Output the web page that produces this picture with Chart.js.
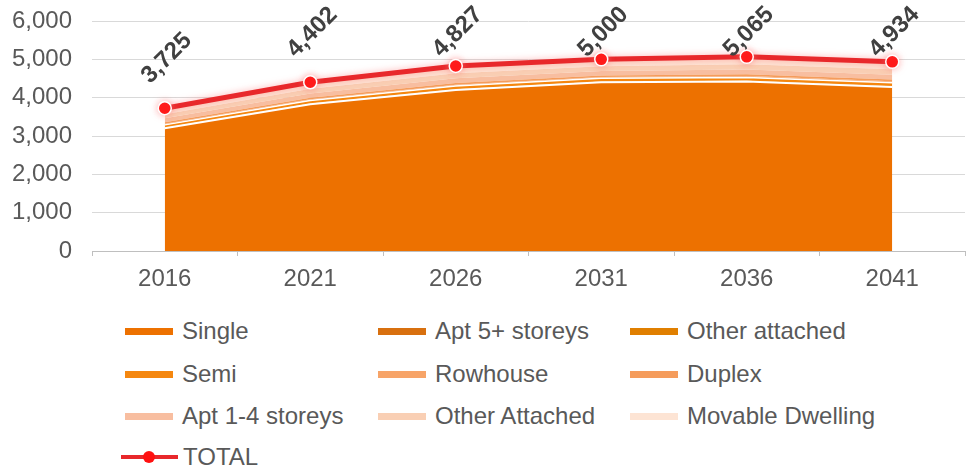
<!DOCTYPE html>
<html>
<head>
<meta charset="utf-8">
<script src="https://cdn.jsdelivr.net/npm/chart.js@4"></script>
<style>
  html, body { margin: 0; padding: 0; background: #ffffff; }
  #wrap { position: relative; width: 973px; height: 472px; overflow: hidden; font-family: "Liberation Sans", Arial, sans-serif; }
  #chartBox { position: absolute; left: 0; top: 0; width: 973px; height: 300px; }
  .lg { position: absolute; height: 30px; display: flex; align-items: center; font-size: 24px; color: #595959; white-space: nowrap; }
  .mk { display: inline-block; width: 48px; height: 7px; margin-right: 9px; }
  .tm { position: relative; display: inline-block; width: 57px; height: 12px; margin-right: 5px; }
  .tm .ln { position: absolute; left: 0; top: 4px; width: 57px; height: 4px; background: #e8282b; }
  .tm .dt { position: absolute; left: 22px; top: 0px; width: 12px; height: 12px; border-radius: 50%; background: #ff1010; }
</style>
</head>
<body>
<div id="wrap">
  <div id="chartBox"><canvas id="c"></canvas></div>
  <div id="legend"></div>
</div>
<script>
// ---- Data ----
const years = ['2016', '2021', '2026', '2031', '2036', '2041'];
const single          = [3200, 3830, 4200, 4400, 4420, 4280];
const apt5Plus        = [10, 12, 14, 15, 16, 16];
const otherAttached1  = [5, 5, 5, 5, 5, 5];
const semi            = [75, 80, 85, 85, 88, 90];
const rowhouse        = [30, 32, 35, 33, 36, 36];
const duplex          = [40, 42, 45, 43, 46, 47];
const apt1to4         = [100, 110, 120, 115, 125, 127];
const otherAttached2  = [110, 120, 135, 125, 137, 138];
const movable         = [155, 171, 188, 179, 192, 195];
const total           = [3725, 4402, 4827, 5000, 5065, 4934];
const yTicks          = [0, 1000, 2000, 3000, 4000, 5000, 6000];

const seriesNames = ['Single', 'Apt 5+ storeys', 'Other attached', 'Semi', 'Rowhouse', 'Duplex',
                     'Apt 1-4 storeys', 'Other Attached', 'Movable Dwelling'];
const seriesData  = [single, apt5Plus, otherAttached1, semi, rowhouse, duplex, apt1to4, otherAttached2, movable];
const seriesColors = ['#ed7100', '#d8700f', '#e07f00', '#f5870f', '#f7a468', '#f59c5c', '#f8bea0', '#f9cfb4', '#fde4d4'];
const borderWidths = [2, 0, 0, 1.5, 0, 0, 0, 0, 0];

const fmt = v => v.toLocaleString('en-US');

const datasets = seriesNames.map((name, i) => ({
  label: name,
  data: seriesData[i],
  backgroundColor: seriesColors[i],
  borderColor: '#ffffff',
  borderWidth: borderWidths[i],
  pointRadius: 0,
  pointHoverRadius: 0,
  fill: i === 0 ? 'origin' : '-1',
  stack: 'housing',
  tension: 0,
  order: 1
}));
datasets.push({
  label: 'TOTAL',
  data: total,
  borderColor: '#e8282b',
  backgroundColor: '#ff1010',
  borderWidth: 5,
  pointRadius: 6.5,
  pointBorderColor: '#ffffff',
  pointBorderWidth: 1.5,
  pointBackgroundColor: '#ff1010',
  fill: false,
  stack: 'total',
  tension: 0,
  order: -1
});

const glowPlugin = {
  id: 'glow',
  beforeDatasetDraw(chart, args) {
    if (chart.data.datasets[args.index].label === 'TOTAL') {
      chart.ctx.save();
      chart.ctx.shadowColor = 'rgba(255,120,120,0.55)';
      chart.ctx.shadowBlur = 7;
    }
  },
  afterDatasetDraw(chart, args) {
    if (chart.data.datasets[args.index].label === 'TOTAL') {
      chart.ctx.restore();
    }
  }
};

const labelPlugin = {
  id: 'totalLabels',
  afterDatasetsDraw(chart) {
    const idx = chart.data.datasets.findIndex(d => d.label === 'TOTAL');
    const meta = chart.getDatasetMeta(idx);
    const ctx = chart.ctx;
    ctx.save();
    ctx.font = 'bold 24px "Liberation Sans", Arial, sans-serif';
    ctx.fillStyle = '#404040';
    ctx.textAlign = 'center';
    ctx.textBaseline = 'middle';
    meta.data.forEach((pt, i) => {
      const cy = Math.max(pt.y - 50, 32);
      ctx.save();
      ctx.translate(pt.x + 2, cy);
      ctx.rotate(-Math.PI / 4);
      ctx.fillText(fmt(chart.data.datasets[idx].data[i]), 0, 0);
      ctx.restore();
    });
    ctx.restore();
  }
};

new Chart(document.getElementById('c'), {
  type: 'line',
  data: { labels: years, datasets },
  options: {
    responsive: true,
    maintainAspectRatio: false,
    animation: false,
    layout: { padding: { top: 21, right: 8, left: 0, bottom: 0 } },
    plugins: { legend: { display: false }, tooltip: { enabled: false } },
    scales: {
      x: {
        offset: true,
        grid: { display: true, drawOnChartArea: false, offset: true, tickLength: 5, color: '#bfbfbf' },
        border: { display: true, color: '#bfbfbf' },
        ticks: { color: '#595959', font: { size: 24, family: '"Liberation Sans", Arial, sans-serif' }, padding: 9 },
        afterFit(s) { s.height = 49; s.paddingLeft = 0; s.paddingRight = 0; }
      },
      y: {
        stacked: true,
        min: 0,
        max: 6000,
        afterBuildTicks(s) { s.ticks = yTicks.map(v => ({ value: v })); },
        grid: { color: '#d9d9d9', drawTicks: false, lineWidth: 1 },
        border: { display: false },
        ticks: { color: '#595959', font: { size: 24, family: '"Liberation Sans", Arial, sans-serif' }, padding: 20, callback: v => fmt(v) },
        afterFit(s) { s.width = 92; s.paddingTop = 0; s.paddingBottom = 0; }
      }
    }
  },
  plugins: [glowPlugin, labelPlugin]
});

// ---- HTML legend ----
const legend = document.getElementById('legend');
const colX = [125, 378, 630];
const rowY = [331, 374, 416, 457];
seriesNames.forEach((name, i) => {
  const el = document.createElement('div');
  el.className = 'lg';
  el.style.left = colX[i % 3] + 'px';
  el.style.top = (rowY[Math.floor(i / 3)] - 15) + 'px';
  const mk = document.createElement('span');
  mk.className = 'mk';
  mk.style.background = seriesColors[i];
  el.appendChild(mk);
  el.appendChild(document.createTextNode(name));
  legend.appendChild(el);
});
const tot = document.createElement('div');
tot.className = 'lg';
tot.style.left = '121px';
tot.style.top = (rowY[3] - 15) + 'px';
tot.innerHTML = '<span class="tm"><span class="ln"></span><span class="dt"></span></span>TOTAL';
legend.appendChild(tot);
</script>
</body>
</html>
